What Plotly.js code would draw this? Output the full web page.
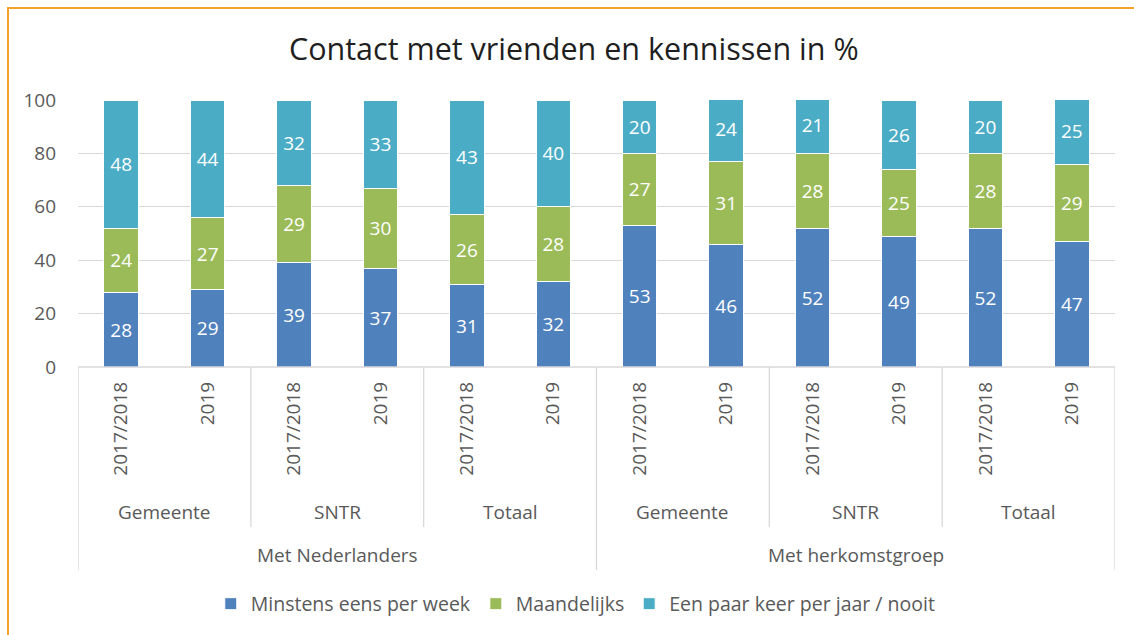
<!DOCTYPE html>
<html><head><meta charset="utf-8">
<script src="https://cdn.plot.ly/plotly-3.0.1.min.js"></script>
<style>
html,body{margin:0;padding:0;background:#fff;}
#wrap{position:relative;width:1134px;height:635px;overflow:hidden;}
#frame{position:absolute;left:7px;top:7px;width:1140px;height:640px;border-left:2px solid #f5a02a;border-top:2px solid #f5a02a;pointer-events:none;z-index:5;}
#chart{width:1134px;height:635px;}
</style></head>
<body><div id="wrap"><div id="frame"></div><div id="chart"></div></div>
<script>
const yearLabels = ["2017/2018","2019","2017/2018","2019","2017/2018","2019","2017/2018","2019","2017/2018","2019","2017/2018","2019"];
const regionLabels = ["Gemeente","SNTR","Totaal","Gemeente","SNTR","Totaal"];
const groupLabels = ["Met Nederlanders","Met herkomstgroep"];
const seriesNames = ["Minstens eens per week","Maandelijks","Een paar keer per jaar / nooit"];
const weekly  = [28,29,39,37,31,32,53,46,52,49,52,47];
const monthly = [24,27,29,30,26,28,27,31,28,25,28,29];
const yearly  = [48,44,32,33,43,40,20,24,21,26,20,25];
const colors = ["#4f81bd","#9bbb59","#4bacc6"];

const FONT = "'Open Sans', sans-serif";
const FS = 19;
const xs = yearLabels.map((_, i) => i);
const vals = [weekly, monthly, yearly];
const traces = vals.map((v, k) => ({
  type: "bar", x: xs, y: v, name: seriesNames[k],
  marker: {color: colors[k], line: {color: "#ffffff", width: 1}},
  text: v.map(String), textposition: "inside", insidetextanchor: "middle",
  textfont: {color: "#ffffff", size: FS, family: FONT},
  hoverinfo: "none", width: 0.4
}));

const plotTop = 100, plotBot = 367, plotH = plotBot - plotTop;
const py = p => (plotBot - p) / plotH;

const shapes = [];
const annotations = [];
shapes.push({type:"line", xref:"x", yref:"paper", x0:-0.5, x1:11.5, y0:0, y1:0, line:{color:"#d9d9d9", width:1.3}});
[-0.5, 5.5, 11.5].forEach(x => shapes.push({type:"line", xref:"x", yref:"paper", x0:x, x1:x, y0:0, y1:py(570), line:{color:"#d9d9d9", width:1.3}}));
[1.5, 3.5, 7.5, 9.5].forEach(x => shapes.push({type:"line", xref:"x", yref:"paper", x0:x, x1:x, y0:0, y1:py(527), line:{color:"#d9d9d9", width:1.3}}));
regionLabels.forEach((t, i) => annotations.push({text:t, xref:"x", yref:"paper", x:2*i+0.5, y:py(512), xanchor:"center", yanchor:"middle", showarrow:false, font:{size:FS, color:"#595959", family:FONT}}));
groupLabels.forEach((t, i) => annotations.push({text:t, xref:"x", yref:"paper", x:6*i+2.5, y:py(555), xanchor:"center", yanchor:"middle", showarrow:false, font:{size:FS, color:"#595959", family:FONT}}));

const layout = {
  width: 1134, height: 635,
  margin: {l: 78, r: 19, t: 100, b: 268},
  paper_bgcolor: "#ffffff", plot_bgcolor: "#ffffff",
  barmode: "stack", bargap: 0.6,
  title: {text: "Contact met vrienden en kennissen in %", font: {size: 30.5, color: "#1f1f1f", family: FONT}, x: 0.506, xanchor: "center", y: 0.922, yanchor: "middle"},
  xaxis: {range: [-0.5, 11.5], tickvals: xs, ticktext: yearLabels, tickangle: -90, ticks: "", showgrid: false, zeroline: false, showline: false,
          tickfont: {size: FS, color: "#595959", family: FONT}, ticklabelstandoff: 10, fixedrange: true},
  yaxis: {range: [0, 100], tickvals: [0,20,40,60,80,100], showgrid: true, gridcolor: "#d9d9d9", gridwidth: 1.3, zeroline: false, showline: false, ticks: "",
          tickfont: {size: FS, color: "#595959", family: FONT}, ticklabelstandoff: 21, fixedrange: true},
  showlegend: true,
  legend: {orientation: "h", traceorder: "normal", x: 0.48, xanchor: "center", y: py(604), yanchor: "middle", font: {size: 19.5, color: "#595959", family: FONT}, itemwidth: 30},
  shapes, annotations
};
Plotly.newPlot("chart", traces, layout, {displayModeBar: false, staticPlot: true});
</script></body></html>
